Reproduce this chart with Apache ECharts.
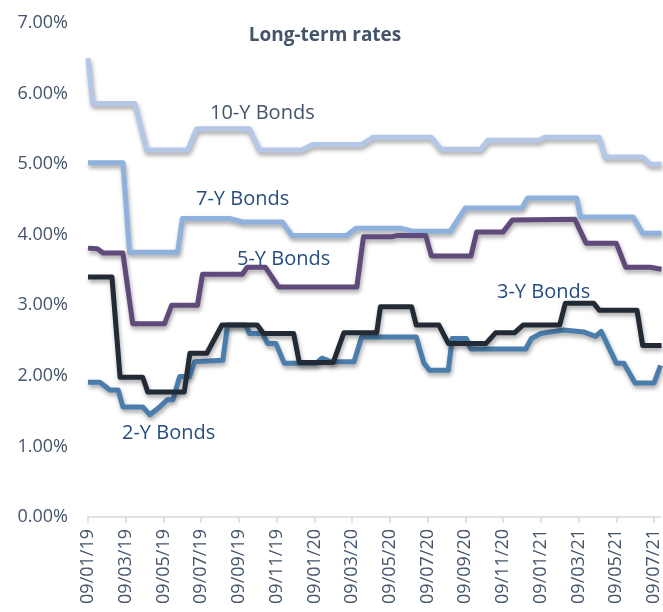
<!DOCTYPE html>
<html>
<head>
<meta charset="utf-8">
<script src="https://cdn.jsdelivr.net/npm/echarts@6/dist/echarts.min.js"></script>
<style>
  html, body { margin: 0; padding: 0; background: #fff; }
  #chart { width: 663px; height: 612px; }
</style>
</head>
<body>
<div id="chart"></div>
<script>
// x values are months after 09/01/19 (dd/mm/yy), y values are yields in %
var tenY_m   = [0, 0.25, 2.48, 3.11, 5.28, 5.75, 8.55, 9.08, 11.3, 11.9, 14.5, 15.1, 18.2, 18.7, 20.8, 21.2, 23.9, 24.2, 27.1, 27.4, 29.4, 29.8, 30.4];
var tenY_v   = [6.50, 5.86, 5.86, 5.20, 5.20, 5.50, 5.50, 5.20, 5.20, 5.28, 5.28, 5.38, 5.38, 5.21, 5.21, 5.34, 5.34, 5.38, 5.38, 5.10, 5.10, 5.00, 5.00];

var sevenY_m = [0, 1.85, 2.2, 4.75, 5.0, 7.5, 8.2, 10.3, 10.8, 13.7, 14.2, 16.6, 17.2, 19.2, 20.0, 23.0, 23.3, 25.9, 26.1, 28.9, 29.4, 30.4];
var sevenY_v = [5.02, 5.02, 3.75, 3.75, 4.23, 4.23, 4.18, 4.18, 3.99, 3.99, 4.09, 4.09, 4.05, 4.05, 4.38, 4.38, 4.52, 4.52, 4.25, 4.25, 4.02, 4.02];

var fiveY_m  = [0, 0.5, 0.8, 1.85, 2.37, 4.06, 4.43, 5.8, 6.07, 8.18, 8.44, 9.4, 10.1, 14.25, 14.6, 16.1, 16.4, 17.9, 18.2, 20.3, 20.6, 22.0, 22.5, 25.8, 26.4, 28.0, 28.5, 29.8, 30.4];
var fiveY_v  = [3.81, 3.80, 3.74, 3.74, 2.74, 2.74, 3.00, 3.00, 3.44, 3.44, 3.54, 3.54, 3.26, 3.26, 3.97, 3.97, 3.99, 3.99, 3.70, 3.70, 4.04, 4.04, 4.21, 4.22, 3.88, 3.88, 3.54, 3.54, 3.51];

var threeY_m = [0, 1.27, 1.7, 2.9, 3.17, 5.1, 5.4, 6.3, 7.1, 8.97, 9.3, 10.9, 11.2, 13.0, 13.56, 15.3, 15.5, 17.15, 17.4, 18.6, 19.1, 21.1, 21.6, 22.6, 23.06, 25.0, 25.3, 26.8, 27.1, 29.1, 29.4, 30.4];
var threeY_v = [3.40, 3.40, 1.98, 1.98, 1.77, 1.77, 2.32, 2.32, 2.72, 2.72, 2.60, 2.60, 2.19, 2.19, 2.61, 2.61, 2.98, 2.98, 2.72, 2.72, 2.46, 2.46, 2.61, 2.61, 2.72, 2.72, 3.03, 3.03, 2.93, 2.93, 2.43, 2.43];

var twoY_m   = [0, 0.63, 1.16, 1.6, 1.85, 2.9, 3.27, 3.8, 4.2, 4.5, 4.86, 5.38, 5.65, 7.14, 7.4, 8.37, 8.55, 9.25, 9.52, 9.96, 10.4, 12.1, 12.4, 12.9, 14.1, 14.5, 17.4, 17.8, 18.1, 19.1, 19.3, 20.05, 20.3, 23.2, 23.5, 24.0, 25.2, 26.3, 26.9, 27.2, 28.0, 28.4, 29.0, 30.0, 30.35];
var twoY_v   = [1.91, 1.91, 1.80, 1.80, 1.56, 1.56, 1.45, 1.56, 1.66, 1.66, 1.99, 1.99, 2.20, 2.22, 2.72, 2.72, 2.60, 2.60, 2.46, 2.46, 2.18, 2.18, 2.25, 2.20, 2.20, 2.55, 2.55, 2.18, 2.08, 2.08, 2.53, 2.53, 2.38, 2.38, 2.53, 2.60, 2.65, 2.62, 2.56, 2.63, 2.18, 2.18, 1.90, 1.90, 2.15];

var yTicks = [0, 1, 2, 3, 4, 5, 6, 7];

var labelColor = '#44546a';
var font = '"Open Sans", "Noto Sans", sans-serif';

function pairs(m, v) {
  var out = [];
  for (var i = 0; i < m.length; i++) out.push([m[i], v[i]]);
  return out;
}

function dateLabel(m) {
  var mm = m % 12 + 1;
  var yy = 19 + Math.floor(m / 12);
  return '09/' + (mm < 10 ? '0' + mm : mm) + '/' + yy;
}

function lineSeries(name, m, v, color) {
  return {
    name: name,
    type: 'line',
    data: pairs(m, v),
    showSymbol: false,
    silent: true,
    lineStyle: {
      color: color,
      width: 5,
      join: 'round',
      shadowColor: 'rgba(0,0,0,0.35)',
      shadowBlur: 4,
      shadowOffsetX: 1,
      shadowOffsetY: 3
    }
  };
}

function textLabel(str, x, y, color) {
  return {
    type: 'text',
    x: x,
    y: y,
    style: {
      text: str,
      fill: color,
      font: '20px ' + font,
      align: 'left',
      verticalAlign: 'middle'
    }
  };
}

var chart = echarts.init(document.getElementById('chart'));

chart.setOption({
  animation: false,
  backgroundColor: '#ffffff',
  title: {
    text: 'Long-term rates',
    left: 320,
    top: 21,
    textAlign: 'center',
    textStyle: { color: labelColor, fontSize: 19, fontWeight: 'bold', fontFamily: font }
  },
  grid: { left: 88, right: 0, top: 23, bottom: 95 },
  xAxis: {
    type: 'value',
    min: 0,
    max: 30.35,
    interval: 2,
    splitLine: { show: false },
    axisLine: { lineStyle: { color: '#d9d9d9', width: 1.5 } },
    axisTick: { show: true, length: 6, lineStyle: { color: '#d9d9d9', width: 1.5 } },
    axisLabel: {
      rotate: 90,
      margin: 12,
      showMaxLabel: false,
      color: labelColor,
      fontSize: 18,
      fontFamily: font,
      formatter: function (val) { return dateLabel(Math.round(val)); }
    }
  },
  yAxis: {
    type: 'value',
    min: yTicks[0],
    max: yTicks[yTicks.length - 1],
    interval: 1,
    splitLine: { show: false },
    axisLine: { show: false },
    axisTick: { show: false },
    axisLabel: {
      margin: 20,
      color: labelColor,
      fontSize: 18,
      fontFamily: font,
      formatter: function (val) { return val.toFixed(2) + '%'; }
    }
  },
  series: [
    lineSeries('10-Y Bonds', tenY_m, tenY_v, '#b4c7e7'),
    lineSeries('7-Y Bonds', sevenY_m, sevenY_v, '#8fb1de'),
    lineSeries('5-Y Bonds', fiveY_m, fiveY_v, '#604a7b'),
    lineSeries('2-Y Bonds', twoY_m, twoY_v, '#4a7dac'),
    lineSeries('3-Y Bonds', threeY_m, threeY_v, '#222a35')
  ],
  graphic: [
    textLabel('10-Y Bonds', 210, 113, labelColor),
    textLabel('7-Y Bonds', 196, 199, '#264d7e'),
    textLabel('5-Y Bonds', 237, 259, '#264d7e'),
    textLabel('3-Y Bonds', 497, 292, '#264d7e'),
    textLabel('2-Y Bonds', 122, 433, '#264d7e')
  ]
});
</script>
</body>
</html>
